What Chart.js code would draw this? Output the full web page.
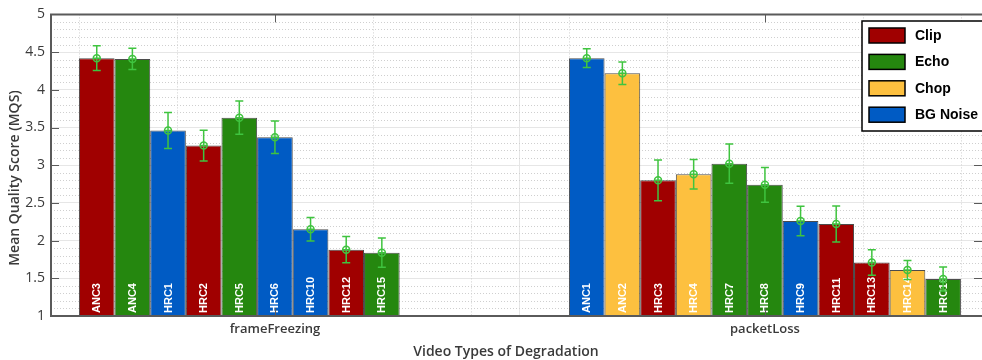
<!DOCTYPE html>
<html>
<head>
<meta charset="utf-8">
<script src="https://cdn.jsdelivr.net/npm/chart.js@4.4.1/dist/chart.umd.min.js"></script>
<style>
  body { margin: 0; background: #fff; }
  canvas { display: block; }
</style>
</head>
<body>
<canvas id="mqs_chart" width="982" height="360"></canvas>
<script>
// categories on x axis
var categories = ['frameFreezing', 'packetLoss'];

// frameFreezing conditions
var ff_conditions = ['ANC3', 'ANC4', 'HRC1', 'HRC2', 'HRC5', 'HRC6', 'HRC10', 'HRC12', 'HRC15'];
var ff_mqs = [4.42, 4.41, 3.46, 3.26, 3.63, 3.37, 2.15, 1.88, 1.84];
var ff_ci = [0.165, 0.14, 0.24, 0.205, 0.22, 0.215, 0.155, 0.175, 0.195];
var ff_type = ['Clip', 'Echo', 'BG Noise', 'Clip', 'Echo', 'BG Noise', 'BG Noise', 'Clip', 'Echo'];

// packetLoss conditions
var pl_conditions = ['ANC1', 'ANC2', 'HRC3', 'HRC4', 'HRC7', 'HRC8', 'HRC9', 'HRC11', 'HRC13', 'HRC14', 'HRC16'];
var pl_mqs = [4.42, 4.22, 2.80, 2.88, 3.02, 2.74, 2.26, 2.22, 1.71, 1.61, 1.49];
var pl_ci = [0.125, 0.15, 0.27, 0.195, 0.26, 0.23, 0.195, 0.24, 0.17, 0.125, 0.16];
var pl_type = ['BG Noise', 'Chop', 'Clip', 'Chop', 'Echo', 'Echo', 'BG Noise', 'Clip', 'Clip', 'Chop', 'Echo'];

// degradation types (legend)
var type_names = ['Clip', 'Echo', 'Chop', 'BG Noise'];
var type_colors = ['#a00000', '#25870f', '#fdc03f', '#005bc4'];

var y_ticks = [1, 1.5, 2, 2.5, 3, 3.5, 4, 4.5, 5];

var TXT = '#3a3a3a';
var ERR = '#3fc43f';

function color_of(t) {
  return type_colors[type_names.indexOf(t)];
}

var cond_lists = [ff_conditions, pl_conditions];
var mqs_lists = [ff_mqs, pl_mqs];
var ci_lists = [ff_ci, pl_ci];
var type_lists = [ff_type, pl_type];

// one dataset per bar slot, like a grouped bar in matlab
var slots = Math.max(ff_mqs.length, pl_mqs.length);
var datasets = [];
for (let s = 0; s < slots; s++) {
  var pts = [];
  var cols = [];
  for (let c = 0; c < categories.length; c++) {
    var v = mqs_lists[c][s];
    pts.push({ x: c + 1, y: v === undefined ? null : v });
    cols.push(v === undefined ? 'rgba(0,0,0,0)' : color_of(type_lists[c][s]));
  }
  datasets.push({
    label: 'slot' + (s + 1),
    data: pts,
    backgroundColor: cols,
    borderColor: 'rgba(45,45,45,0.85)',
    borderWidth: 1,
    borderSkipped: 'bottom',
    categoryPercentage: 0.8,
    barPercentage: 1.0
  });
}

// minor grid, borders, inside labels, error bars, legend, axis titles
var decorPlugin = {
  id: 'decor',
  beforeDatasetsDraw: function(chart) {
    var ctx = chart.ctx;
    var a = chart.chartArea;
    var xs = chart.scales.x, ys = chart.scales.y;
    ctx.save();
    ctx.strokeStyle = '#cfcfcf';
    ctx.lineWidth = 1;
    ctx.setLineDash([1, 2]);
    for (let k = 11; k < 50; k++) {
      if (k % 5 === 0) continue;
      var py = Math.round(ys.getPixelForValue(k / 10)) + 0.5;
      ctx.beginPath(); ctx.moveTo(a.left, py); ctx.lineTo(a.right, py); ctx.stroke();
    }
    for (let c = 0; c < categories.length; c++) {
      for (let k = -2; k <= 2; k++) {
        if (k === 0) continue;
        var px = Math.round(xs.getPixelForValue(c + 1 + k * 0.2)) + 0.5;
        if (px < a.left || px > a.right) continue;
        ctx.beginPath(); ctx.moveTo(px, a.top); ctx.lineTo(px, a.bottom); ctx.stroke();
      }
    }
    ctx.restore();
  },
  afterDatasetsDraw: function(chart) {
    var ctx = chart.ctx;
    var a = chart.chartArea;
    var xs = chart.scales.x, ys = chart.scales.y;
    ctx.save();

    // labels inside the bars
    ctx.fillStyle = '#ffffff';
    ctx.font = 'bold 11px "Liberation Sans", Arial, sans-serif';
    ctx.textAlign = 'left';
    ctx.textBaseline = 'middle';
    for (let s = 0; s < datasets.length; s++) {
      var meta = chart.getDatasetMeta(s);
      for (let c = 0; c < categories.length; c++) {
        var name = cond_lists[c][s];
        if (name === undefined) continue;
        var el = meta.data[c];
        ctx.save();
        ctx.translate(el.x + 0.5, a.bottom - 3);
        ctx.rotate(-Math.PI / 2);
        ctx.fillText(name, 0, 0);
        ctx.restore();
      }
    }

    // error bars with circle markers
    ctx.strokeStyle = ERR;
    ctx.lineWidth = 1.5;
    for (let s = 0; s < datasets.length; s++) {
      var meta2 = chart.getDatasetMeta(s);
      for (let c = 0; c < categories.length; c++) {
        var v = mqs_lists[c][s];
        if (v === undefined) continue;
        var e = ci_lists[c][s];
        var x = meta2.data[c].x;
        var yt = ys.getPixelForValue(v + e);
        var yb = ys.getPixelForValue(v - e);
        var ym = ys.getPixelForValue(v);
        ctx.beginPath();
        ctx.moveTo(x, yt); ctx.lineTo(x, yb);
        ctx.moveTo(x - 4, yt); ctx.lineTo(x + 4, yt);
        ctx.moveTo(x - 4, yb); ctx.lineTo(x + 4, yb);
        ctx.moveTo(x - 3.5, ym); ctx.lineTo(x + 3.5, ym);
        ctx.stroke();
        ctx.beginPath();
        ctx.arc(x, ym, 3.5, 0, Math.PI * 2);
        ctx.stroke();
      }
    }

    // axes box
    ctx.strokeStyle = '#5a5a5a';
    ctx.lineWidth = 2;
    ctx.beginPath();
    ctx.moveTo(a.right + 2, a.top); ctx.lineTo(a.left, a.top);
    ctx.lineTo(a.left, a.bottom); ctx.lineTo(a.right + 2, a.bottom);
    ctx.stroke();

    // inward tick marks
    ctx.lineWidth = 1;
    ctx.beginPath();
    y_ticks.forEach(function(t) {
      var py = Math.round(ys.getPixelForValue(t)) + 0.5;
      ctx.moveTo(a.left, py); ctx.lineTo(a.left + 8, py);
      ctx.moveTo(a.right, py); ctx.lineTo(a.right - 8, py);
    });
    categories.forEach(function(c, i) {
      var px = Math.round(xs.getPixelForValue(i + 1)) + 0.5;
      ctx.moveTo(px, a.top); ctx.lineTo(px, a.top + 8);
      ctx.moveTo(px, a.bottom); ctx.lineTo(px, a.bottom - 8);
    });
    ctx.stroke();

    // legend box
    var lx = 862, ly = 21, lw = 130, lh = 110;
    ctx.fillStyle = '#ffffff';
    ctx.fillRect(lx, ly, lw, lh);
    ctx.strokeStyle = '#000000';
    ctx.lineWidth = 1.5;
    ctx.strokeRect(lx, ly, lw, lh);
    ctx.font = 'bold 14px "Liberation Sans", Arial, sans-serif';
    ctx.textBaseline = 'middle';
    ctx.textAlign = 'left';
    type_names.forEach(function(t, i) {
      var cy = ly + 14 + i * 26.4;
      ctx.fillStyle = type_colors[i];
      ctx.fillRect(lx + 7, cy - 7, 36, 15);
      ctx.strokeStyle = '#000000';
      ctx.lineWidth = 1.5;
      ctx.strokeRect(lx + 7, cy - 7, 36, 15);
      ctx.fillStyle = '#000000';
      ctx.fillText(t, lx + 53, cy + 1);
    });

    // axis titles
    ctx.fillStyle = TXT;
    ctx.font = '600 14px "Open Sans", sans-serif';
    ctx.textAlign = 'center';
    ctx.textBaseline = 'middle';
    ctx.fillText('Video Types of Degradation', 506, 352);
    ctx.save();
    ctx.translate(15, 178);
    ctx.rotate(-Math.PI / 2);
    ctx.fillText('Mean Quality Score (MQS)', 0, 0);
    ctx.restore();

    ctx.restore();
  }
};

var ctx = document.getElementById('mqs_chart').getContext('2d');
var myChart = new Chart(ctx, {
  type: 'bar',
  data: { datasets: datasets },
  options: {
    responsive: false,
    animation: false,
    layout: { padding: { top: 11, right: 0, left: 0, bottom: 0 } },
    plugins: {
      legend: { display: false },
      tooltip: { enabled: false }
    },
    scales: {
      x: {
        type: 'linear',
        min: 0.543,
        max: 2.443,
        offset: false,
        afterBuildTicks: function(axis) {
          axis.ticks = categories.map(function(c, i) { return { value: i + 1 }; });
        },
        afterFit: function(axis) { axis.height = 44; },
        ticks: {
          color: TXT,
          font: { family: '"Open Sans", sans-serif', size: 13, weight: '600' },
          padding: 5,
          maxRotation: 0,
          callback: function(v) { return categories[v - 1]; }
        },
        grid: { color: '#e6e6e6', drawTicks: false },
        border: { display: false }
      },
      y: {
        min: 1,
        max: 5,
        afterBuildTicks: function(axis) {
          axis.ticks = y_ticks.map(function(t) { return { value: t }; });
        },
        afterFit: function(axis) { axis.width = 51; },
        ticks: {
          color: TXT,
          font: { family: '"Open Sans", sans-serif', size: 14 },
          padding: 6,
          callback: function(v) { return String(v); }
        },
        grid: { color: '#e6e6e6', drawTicks: false },
        border: { display: false }
      }
    }
  },
  plugins: [decorPlugin]
});
</script>
</body>
</html>
